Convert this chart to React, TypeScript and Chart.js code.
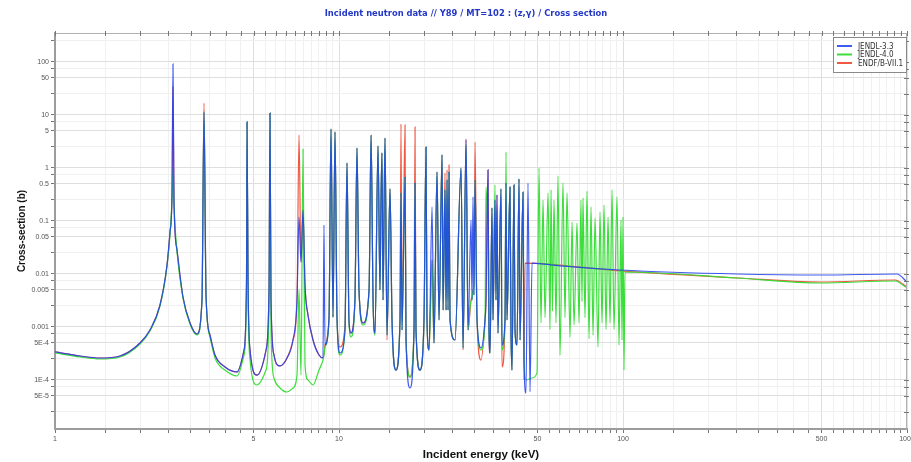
import React, { useEffect, useRef } from 'react';
import { Chart, registerables } from 'chart.js';

Chart.register(...registerables);

const TITLE = 'Incident neutron data // Y89 / MT=102 : (z,γ) / Cross section';
const X_TITLE = 'Incident energy (keV)';
const Y_TITLE = 'Cross-section (b)';
const SERIES_LABELS = ['JENDL-3.3', 'JENDL-4.0', 'ENDF/B-VII.1'];
const SERIES_COLORS = ['rgba(30,62,240,0.85)', 'rgba(50,220,50,0.95)', 'rgba(238,80,58,0.95)'];

const X_MIN = 1;
const X_MAX = 1000;
const Y_MIN = 1.19e-5;
const Y_MAX = 352;

const X_DECADES = [1, 10, 100];
const X_TICK_STEPS = [1, 1.5, 2, 2.5, 3, 3.5, 4, 4.5, 5, 5.5, 6, 6.5, 7, 7.5, 8, 8.5, 9, 9.5];
const X_LABEL_VALUES = [1, 5, 10, 50, 100, 500, 1000];
const X_LABEL_TEXTS = ['1', '5', '10', '50', '100', '500', '1000'];

const Y_DECADES = [1e-5, 1e-4, 1e-3, 1e-2, 1e-1, 1, 10, 100];
const Y_TICK_STEPS = [1, 2.5, 5, 7.5];
const Y_LABEL_VALUES = [5e-5, 1e-4, 5e-4, 0.001, 0.005, 0.01, 0.05, 0.1, 0.5, 1, 5, 10, 50, 100];
const Y_LABEL_TEXTS = ['5E-5', '1E-4', '5E-4', '0.001', '0.005', '0.01', '0.05', '0.1', '0.5', '1', '5', '10', '50', '100'];

// Resolved-resonance region shared energy grid (keV)
const ENERGY_LOW = [
  1.000, 1.225, 1.440, 1.694, 1.992, 2.160, 2.343, 2.480, 2.541, 2.582,
  2.603, 2.624, 2.689, 2.822, 2.988, 3.162, 3.293, 3.347, 3.402, 3.513,
  3.659, 3.968, 4.374, 4.630, 4.724, 4.744, 4.783, 4.861, 5.144, 5.534,
  5.670, 5.715, 5.762, 5.903, 6.198, 6.560, 6.887, 7.114, 7.231, 7.349,
  7.469, 7.591, 7.778, 8.100, 8.503, 8.783, 8.854, 8.926, 9.222, 9.372,
  9.526, 9.681, 9.840, 10.08, 10.50, 10.67, 10.84, 11.02, 11.38, 11.57,
  11.76, 12.15, 12.76, 12.97, 13.18, 13.39, 13.72, 13.94, 14.06, 14.17,
  14.29, 14.52, 14.76, 15.12, 15.37, 15.87, 16.40, 16.53, 16.67, 17.08,
  17.22, 17.78, 18.37, 18.52, 18.67, 19.28, 19.92, 20.25, 20.41, 20.75,
  21.26, 21.60, 22.14, 22.50, 23.06, 23.25, 23.62, 23.82, 24.01, 24.21,
  24.40, 24.60, 25.62, 26.90, 27.34, 28.01, 28.47, 29.17, 29.40, 29.64,
  29.88, 30.13, 30.62, 31.62, 32.67, 32.93, 33.47, 33.74, 34.02, 34.57,
  34.85, 35.42, 35.71, 36.00, 36.29, 37.19, 37.49, 38.41, 38.73, 39.04,
  40.00, 40.33, 40.66, 41.32, 41.66, 42.34, 43.04, 43.39, 44.46,
];

const XS_JENDL33_LOW = [
  3.38e-4, 2.84e-4, 2.6e-4, 2.84e-4, 4.99e-4, 8.78e-4, 2.6e-3, 0.0148, 0.062, 0.31,
  91.7, 0.249, 0.0284, 0.00368, 0.00119, 7.38e-4, 0.00323, 11.4, 0.00402, 7.06e-4,
  2.96e-4, 1.76e-4, 1.42e-4, 3.68e-4, 0.0077, 7.38, 0.0077, 3.68e-4, 1.24e-4, 3.68e-4,
  0.005, 10.9, 0.00323, 2.96e-4, 1.84e-4, 2.6e-4, 5.68e-4, 0.00323, 0.119, 0.0168,
  0.161, 0.0062, 0.00168, 5.68e-4, 2.96e-4, 2.6e-4, 0.084, 4.57e-4, 0.00148, 5.44,
  0.00154, 4.78, 0.00148, 3.23e-4, 8.78e-4, 1.24, 0.00136, 7.7e-4, 0.00323, 2.38,
  0.005, 0.00119, 0.005, 4.19, 0.00323, 7.7e-4, 2.6, 0.005, 0.272, 1.92,
  0.00323, 3.68, 7.06e-4, 0.402, 0.00136, 1.54e-4, 0.00136, 0.338, 8.78e-4, 0.676,
  5.68e-4, 7.06e-5, 8.78e-4, 0.521, 8.78e-4, 1.54e-4, 0.00136, 2.49, 0.00136, 3.68e-4,
  0.184, 4.99e-4, 0.84, 0.00136, 1.76, 0.00209, 0.385, 0.00209, 0.594, 0.00209,
  0.84, 0.00136, 5.68e-4, 1.0, 4.02e-4, 3.38, 8.78e-4, 0.104, 0.00323, 0.284,
  0.00402, 0.594, 0.00136, 4.02e-4, 0.00136, 0.00323, 0.917, 8.78e-4, 3.23e-4, 0.176,
  0.00136, 0.249, 0.00323, 0.31, 7.7e-4, 0.402, 4.57e-4, 0.00136, 0.521, 0.00136,
  0.438, 8.78e-4, 1.54e-4, 0.478, 8.78e-4, 4.57e-4, 0.62, 5.68e-4, 0.352,
];

const XS_JENDL40_LOW = [
  3.23e-4, 2.72e-4, 2.49e-4, 2.72e-4, 4.78e-4, 8.4e-4, 2.5e-3, 0.0142, 0.0568, 0.249,
  0.917, 0.2, 0.026, 0.00352, 0.00114, 7.06e-4, 0.00323, 11.4, 0.00402, 6.48e-4,
  2.6e-4, 1.54e-4, 1.19e-4, 2.96e-4, 0.005, 7.38, 0.005, 2.38e-4, 8.05e-5, 1.54e-4,
  0.00209, 10.9, 8.78e-4, 1.09e-4, 7.06e-5, 5.94e-5, 7.06e-5, 1.24e-4, 0.005, 1.24e-4,
  2.28, 1.92e-4, 1.0e-4, 8.05e-5, 1.54e-4, 2.38e-4, 2.96e-4, 4.19e-4, 0.00136, 5.44,
  0.00154, 4.78, 0.00148, 2.96e-4, 8.78e-4, 1.24, 0.00136, 6.48e-4, 0.00323, 2.38,
  0.005, 0.00109, 0.005, 4.19, 0.00323, 7.06e-4, 2.6, 0.005, 0.272, 1.92,
  0.00323, 3.68, 7.06e-4, 0.402, 0.00136, 1.54e-4, 0.00136, 0.338, 8.78e-4, 0.676,
  5.68e-4, 1.14e-4, 8.78e-4, 0.521, 8.78e-4, 1.54e-4, 0.00136, 2.49, 0.00136, 3.68e-4,
  0.0184, 4.99e-4, 0.84, 0.00136, 1.76, 0.00209, 0.385, 0.00209, 0.594, 0.00209,
  0.84, 0.00136, 5.68e-4, 1.0, 4.02e-4, 2.72, 8.78e-4, 0.00323, 0.00323, 0.005,
  0.00402, 0.594, 0.00136, 3.68e-4, 0.00136, 0.438, 0.0284, 8.78e-4, 3.23e-4, 0.176,
  0.00136, 0.478, 0.00323, 0.161, 7.7e-4, 0.402, 3.68e-4, 0.00136, 2.0, 0.00136,
  0.438, 8.78e-4, 1.54e-4, 0.478, 8.78e-4, 4.57e-4, 0.62, 5.68e-4, 0.352,
];

const XS_ENDF71_LOW = [
  3.38e-4, 2.84e-4, 2.6e-4, 2.84e-4, 4.99e-4, 8.78e-4, 2.6e-3, 0.0148, 0.062, 0.31,
  33.8, 0.249, 0.0284, 0.00368, 0.00119, 7.38e-4, 0.00323, 16.8, 0.00402, 7.06e-4,
  2.96e-4, 1.76e-4, 1.42e-4, 3.68e-4, 0.0077, 7.38, 0.0077, 3.68e-4, 1.24e-4, 3.68e-4,
  0.005, 10.9, 0.00323, 2.96e-4, 1.84e-4, 2.6e-4, 5.68e-4, 0.00323, 4.19, 0.0168,
  0.161, 0.0062, 0.00168, 5.68e-4, 2.96e-4, 2.6e-4, 2.96e-4, 4.57e-4, 0.00148, 5.44,
  0.00154, 4.78, 0.00148, 4.19e-4, 0.00109, 1.24, 0.00136, 7.7e-4, 0.00323, 2.38,
  0.005, 0.00119, 0.005, 4.19, 0.00323, 7.7e-4, 2.6, 0.005, 0.272, 1.92,
  0.00323, 3.68, 5.68e-4, 0.402, 0.00136, 1.54e-4, 0.00136, 6.76, 8.78e-4, 6.48,
  5.68e-4, 1.14e-4, 8.78e-4, 5.94, 8.78e-4, 1.54e-4, 0.00136, 2.49, 0.00136, 3.68e-4,
  0.0184, 4.99e-4, 0.84, 0.00136, 1.76, 0.00209, 0.805, 0.00209, 0.917, 0.00209,
  1.14, 0.00136, 5.68e-4, 1.0, 3.68e-4, 3.53, 8.78e-4, 0.00323, 0.00368, 0.005,
  0.0062, 3.09, 0.00136, 2.38e-4, 0.00136, 0.00323, 0.917, 8.78e-4, 3.23e-4, 0.176,
  0.00136, 0.249, 0.00323, 0.31, 7.7e-4, 0.402, 1.76e-4, 0.00136, 0.521, 0.00136,
  0.438, 8.78e-4, 1.54e-4, 0.478, 8.78e-4, 4.57e-4, 0.62, 5.68e-4, 0.352,
];

// Higher-energy parts, per evaluation
const ENERGY_JENDL33_HIGH = [44.82, 45.55, 46.29, 47.05, 47.82, 60.01, 97.6, 252, 494, 922.5, 1000];
const XS_JENDL33_HIGH = [2.38e-4, 5.68e-5, 0.521, 6.0e-5, 0.0161, 0.0142, 0.0119, 0.0100, 0.00957, 0.0100, 0.00706];

const ENERGY_ENDF71_HIGH = [44.82, 45.18, 97.6, 252, 494, 907.6, 1000];
const XS_ENDF71_HIGH = [1.0e-4, 0.0161, 0.0114, 0.0084, 0.00706, 0.0077, 0.00568];

const ENERGY_JENDL40_HIGH = [
  44.82, 45.55, 47.82, 49.80, 50.61, 51.44, 52.29, 53.14, 54.45, 55.34,
  55.79, 56.47, 57.15, 58.09, 59.04, 60.01, 61.48, 62.49, 63.51, 65.08,
  66.15, 67.23, 68.87, 70.00, 71.14, 71.72, 72.30, 73.48, 74.69, 75.92,
  77.16, 78.43, 79.71, 81.66, 82.99, 84.36, 85.73, 87.14, 88.57, 90.01,
  91.49, 92.97, 95.26, 96.82, 98.40, 99.20, 100.0, 100.8, 101.6, 252,
  494, 907.6, 1000,
];
const XS_JENDL40_HIGH = [
  2.38e-4, 1.0e-4, 1.09e-4, 1.36e-4, 1.0, 0.0012, 0.249, 0.0015, 0.338, 9.0e-4,
  0.385, 0.002, 0.249, 0.0012, 0.706, 2.96e-4, 0.521, 0.0015, 0.338, 6.48e-4,
  0.0957, 0.0011, 0.0917, 0.0012, 0.249, 0.003, 0.272, 0.0015, 0.368, 6.0e-4,
  0.184, 7.0e-4, 0.114, 4.19e-4, 0.148, 0.0012, 0.2, 9.0e-4, 0.119, 0.0012,
  0.385, 9.0e-4, 0.284, 4.57e-4, 0.104, 5.68e-4, 0.119, 1.54e-4, 0.0109, 0.0084,
  0.00676, 0.00738, 0.00544,
];

const FONT = "'Liberation Sans', Arial, sans-serif";
const NARROW = "'Liberation Sans Narrow', 'DejaVu Sans Condensed', 'Liberation Sans', sans-serif";

const X_TICKS = X_DECADES.flatMap((d) => X_TICK_STEPS.map((s) => +(s * d).toPrecision(6))).concat([X_MAX]);
const Y_TICKS = Y_DECADES.flatMap((d) => Y_TICK_STEPS.map((s) => +(s * d).toPrecision(6))).filter(
  (v) => v >= Y_MIN && v <= Y_MAX
);

const findIndex = (v: number, list: number[]) =>
  list.findIndex((l) => Math.abs(Math.log10(v / l)) < 1e-6);

const toPoints = (e: number[], s: number[]) => e.map((x, i) => ({ x, y: s[i] }));

const decorPlugin = {
  id: 'decor',
  afterDraw(chart: any) {
    const { ctx, chartArea: a } = chart;
    ctx.save();
    ctx.strokeStyle = '#b0b0b0';
    ctx.lineWidth = 1;
    ctx.beginPath();
    ctx.moveTo(a.left, a.top + 0.5);
    ctx.lineTo(a.right, a.top + 0.5);
    ctx.moveTo(a.right - 0.5, a.top);
    ctx.lineTo(a.right - 0.5, a.bottom);
    ctx.stroke();
    ctx.strokeStyle = '#777';
    ctx.beginPath();
    chart.scales.x.ticks.forEach((t: any) => {
      const px = Math.round(chart.scales.x.getPixelForValue(t.value)) + 0.5;
      ctx.moveTo(px, a.top - 2);
      ctx.lineTo(px, a.top + 3);
    });
    chart.scales.y.ticks.forEach((t: any) => {
      const py = Math.round(chart.scales.y.getPixelForValue(t.value)) + 0.5;
      ctx.moveTo(a.right - 3, py);
      ctx.lineTo(a.right + 2, py);
    });
    ctx.stroke();
    ctx.font = `bold 9.3px ${NARROW}`;
    ctx.fillStyle = '#2438c6';
    ctx.textAlign = 'center';
    ctx.textBaseline = 'middle';
    ctx.fillText(TITLE, 466, 14);
    const lx = 833;
    const ly = 37;
    ctx.fillStyle = '#ffffff';
    ctx.fillRect(lx, ly, 73, 35);
    ctx.strokeStyle = '#8a8a8a';
    ctx.strokeRect(lx + 0.5, ly + 0.5, 73, 35);
    ctx.font = `8px ${NARROW}`;
    ctx.textAlign = 'left';
    chart.data.datasets.forEach((ds: any, i: number) => {
      const y = ly + 9 + i * 8.5;
      ctx.strokeStyle = ds.borderColor;
      ctx.lineWidth = 2;
      ctx.beginPath();
      ctx.moveTo(lx + 4, y);
      ctx.lineTo(lx + 19, y);
      ctx.stroke();
      ctx.fillStyle = '#333';
      ctx.fillText(ds.label, lx + 25, y + 0.5);
    });
    ctx.restore();
  },
};

export default function App() {
  const ref = useRef<HTMLCanvasElement>(null);
  useEffect(() => {
    const datasets = [
      {
        label: SERIES_LABELS[0],
        data: [...toPoints(ENERGY_LOW, XS_JENDL33_LOW), ...toPoints(ENERGY_JENDL33_HIGH, XS_JENDL33_HIGH)],
        borderColor: SERIES_COLORS[0],
      },
      {
        label: SERIES_LABELS[1],
        data: [...toPoints(ENERGY_LOW, XS_JENDL40_LOW), ...toPoints(ENERGY_JENDL40_HIGH, XS_JENDL40_HIGH)],
        borderColor: SERIES_COLORS[1],
      },
      {
        label: SERIES_LABELS[2],
        data: [...toPoints(ENERGY_LOW, XS_ENDF71_LOW), ...toPoints(ENERGY_ENDF71_HIGH, XS_ENDF71_HIGH)],
        borderColor: SERIES_COLORS[2],
      },
    ].map((d) => ({
      ...d,
      borderWidth: 1.2,
      pointRadius: 0,
      cubicInterpolationMode: 'monotone',
      fill: false,
    }));

    const chart = new Chart(ref.current as HTMLCanvasElement, {
      type: 'line',
      data: { datasets },
      options: {
        animation: false,
        responsive: false,
        devicePixelRatio: 1,
        layout: { padding: { top: 33, right: 4, left: 0, bottom: 0 } },
        plugins: { legend: { display: false }, title: { display: false }, tooltip: { enabled: false } },
        scales: {
          x: {
            type: 'logarithmic',
            min: X_MIN,
            max: X_MAX,
            afterBuildTicks: (scale: any) => {
              scale.ticks = X_TICKS.map((value) => ({ value }));
            },
            afterFit: (scale: any) => {
              scale.height = 33;
              scale.paddingLeft = 0;
              scale.paddingRight = 0;
            },
            ticks: {
              autoSkip: false,
              maxRotation: 0,
              minRotation: 0,
              padding: 2,
              color: '#555',
              font: { size: 7, family: FONT },
              callback: (v: any) => {
                const i = findIndex(Number(v), X_LABEL_VALUES);
                return i >= 0 ? X_LABEL_TEXTS[i] : '';
              },
            },
            grid: {
              color: (c: any) =>
                c.tick && findIndex(c.tick.value, X_LABEL_VALUES) >= 0 ? '#dedede' : '#f0f0f0',
              tickLength: 4,
              tickColor: '#777',
            },
            border: { color: '#9c9c9c', width: 2 },
            title: {
              display: true,
              text: X_TITLE,
              color: '#111',
              font: { size: 11.5, weight: 'bold', family: FONT },
              padding: { top: 0, bottom: 0 },
            },
          },
          y: {
            type: 'logarithmic',
            min: Y_MIN,
            max: Y_MAX,
            afterBuildTicks: (scale: any) => {
              scale.ticks = Y_TICKS.map((value) => ({ value }));
            },
            afterFit: (scale: any) => {
              scale.width = 55;
              scale.paddingTop = 0;
              scale.paddingBottom = 0;
            },
            ticks: {
              autoSkip: false,
              padding: 2,
              color: '#555',
              font: { size: 7, family: FONT },
              callback: (v: any) => {
                const i = findIndex(Number(v), Y_LABEL_VALUES);
                return i >= 0 ? Y_LABEL_TEXTS[i] : '';
              },
            },
            grid: {
              color: (c: any) =>
                c.tick && findIndex(c.tick.value, Y_LABEL_VALUES) >= 0 ? '#dedede' : '#f0f0f0',
              tickLength: 4,
              tickColor: '#777',
            },
            border: { color: '#9c9c9c', width: 2 },
            title: {
              display: true,
              text: Y_TITLE,
              color: '#111',
              font: { size: 10, weight: 'bold', family: FONT },
              padding: { top: 16, bottom: 0 },
            },
          },
        },
      },
      plugins: [decorPlugin],
    } as any);
    return () => chart.destroy();
  }, []);

  return (
    <div style={{ position: 'absolute', left: 0, top: 0, width: 911, height: 462, background: '#fff' }}>
      <canvas ref={ref} width={911} height={462} style={{ display: 'block' }} />
    </div>
  );
}
